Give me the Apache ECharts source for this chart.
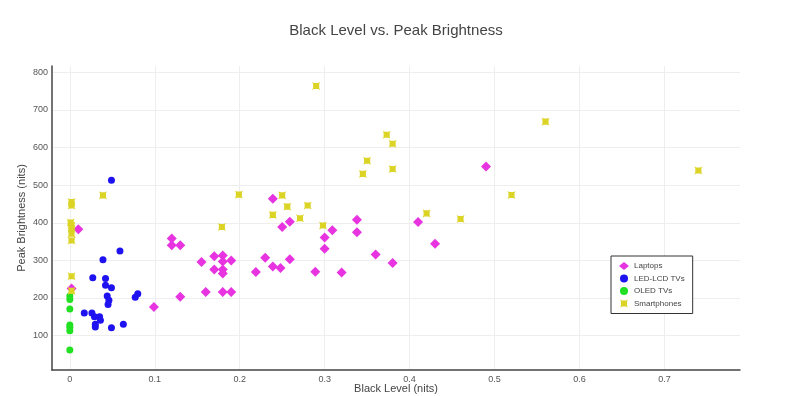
<!DOCTYPE html>
<html><head><meta charset="utf-8">
<script src="https://cdn.jsdelivr.net/npm/echarts@6/dist/echarts.min.js"></script>
<style>html,body{margin:0;padding:0;background:#fff}#c{width:792px;height:396px}</style>
</head><body><div id="c"></div>
<script>
var titleText = "Black Level vs. Peak Brightness";
var xAxisName = "Black Level (nits)";
var yAxisName = "Peak Brightness (nits)";
var seriesNames = ["Laptops", "LED-LCD TVs", "OLED TVs", "Smartphones"];

var laptops = [
  [0.002,225],[0.010,383],[0.099,176],[0.120,358],[0.120,340],[0.130,340],[0.130,203],
  [0.155,296],[0.160,216],[0.170,311],[0.170,276],[0.180,313],[0.180,297],[0.180,276],
  [0.180,265],[0.180,216],[0.190,300],[0.190,216],[0.219,269],[0.230,307],[0.239,464],
  [0.239,284],[0.248,280],[0.250,389],[0.259,403],[0.259,303],[0.289,270],[0.300,361],
  [0.300,331],[0.309,380],[0.320,268],[0.338,408],[0.338,375],[0.360,316],[0.380,293],
  [0.410,402],[0.430,344],[0.490,550]
];
var ledLcd = [
  [0.049,513],[0.059,325],[0.039,302],[0.027,254],[0.042,252],[0.042,234],[0.049,227],
  [0.044,205],[0.046,194],[0.045,183],[0.080,211],[0.077,202],[0.017,160],[0.026,160],
  [0.029,150],[0.035,150],[0.036,141],[0.030,130],[0.030,123],[0.049,121],[0.063,130]
];
var oled = [
  [0.0,205],[0.0,196],[0.0,171],[0.0,128],[0.0,122],[0.0,113],[0.0,62]
];
var smartphones = [
  [0.039,473],[0.002,455],[0.002,446],[0.001,401],[0.002,393],[0.002,384],[0.002,371],
  [0.002,353],[0.002,258],[0.002,219],[0.179,389],[0.199,475],[0.239,421],[0.250,473],
  [0.256,443],[0.271,412],[0.280,446],[0.290,764],[0.298,393],[0.345,530],[0.350,565],
  [0.373,634],[0.380,610],[0.380,543],[0.420,425],[0.460,410],[0.520,474],[0.560,669],
  [0.740,539]
];

var colors = ["#e733e0", "#1f12f0", "#22e022", "#dcd424"];
var phoneSymbol = "path://M0,0 L2.5,1.2 L7.5,1.2 L10,0 L8.8,2.5 L8.8,7.5 L10,10 L7.5,8.8 L2.5,8.8 L0,10 L1.2,7.5 L1.2,2.5 Z";

var chart = echarts.init(document.getElementById('c'));
var font = "'Liberation Sans', Arial, sans-serif";
chart.setOption({
  animation: false,
  backgroundColor: '#fff',
  title: {
    text: titleText, left: 'center', top: 18,
    textStyle: { fontFamily: font, fontSize: 15, fontWeight: 'normal', color: '#444' }
  },
  legend: {
    orient: 'vertical', left: 611, top: 256,
    backgroundColor: '#fff', borderColor: '#333', borderWidth: 1,
    padding: [6, 8, 6, 8], itemGap: 4.5, itemWidth: 10, itemHeight: 8,
    width: 64,
    textStyle: { fontFamily: font, fontSize: 8, color: '#444' },
    data: seriesNames
  },
  grid: { left: 52, right: 52, top: 66, bottom: 26, containLabel: false, outerBoundsMode: 'none' },
  xAxis: {
    type: 'value', min: -0.021, max: 0.789,
    minInterval: 0.1, maxInterval: 0.1,
    name: xAxisName, nameLocation: 'middle', nameGap: 13, nameMoveOverlap: false,
    nameTextStyle: { fontFamily: font, fontSize: 11, color: '#444' },
    axisLine: { show: true, onZero: false, lineStyle: { color: '#444', width: 1.5 } },
    axisTick: { show: false },
    axisLabel: {
      fontFamily: font, fontSize: 9, color: '#555', margin: 5,
      showMinLabel: false, showMaxLabel: false,
      formatter: function (v) {
        var r = Math.round(v * 10) / 10;
        if (Math.abs(v - r) > 1e-6) return '';
        return String(r);
      }
    },
    splitLine: { show: true, showMinLine: false, showMaxLine: false, lineStyle: { color: '#eeeeee', width: 1 } }
  },
  yAxis: {
    type: 'value', min: 8.5, max: 817,
    minInterval: 100, maxInterval: 100,
    name: yAxisName, nameLocation: 'middle', nameGap: 25, nameRotate: 90, nameMoveOverlap: false,
    nameTextStyle: { fontFamily: font, fontSize: 11, color: '#444' },
    axisLine: { show: true, onZero: false, lineStyle: { color: '#444', width: 1.5 } },
    axisTick: { show: false },
    axisLabel: {
      fontFamily: font, fontSize: 9, color: '#555', margin: 4,
      showMinLabel: false, showMaxLabel: false,
      formatter: function (v) {
        if (Math.abs(v % 100) > 1e-6) return '';
        return String(v);
      }
    },
    splitLine: { show: true, showMinLine: false, showMaxLine: false, lineStyle: { color: '#eeeeee', width: 1 } }
  },
  series: [
    { name: seriesNames[0], type: 'scatter', data: laptops, symbol: 'diamond', symbolSize: 10,
      itemStyle: { color: colors[0], opacity: 1 } },
    { name: seriesNames[1], type: 'scatter', data: ledLcd, symbol: 'circle', symbolSize: 7,
      itemStyle: { color: colors[1], opacity: 1 } },
    { name: seriesNames[2], type: 'scatter', data: oled, symbol: 'circle', symbolSize: 7,
      itemStyle: { color: colors[2], opacity: 1 } },
    { name: seriesNames[3], type: 'scatter', data: smartphones, symbol: phoneSymbol, symbolSize: 8,
      itemStyle: { color: colors[3], opacity: 1 } }
  ]
});
</script></body></html>
